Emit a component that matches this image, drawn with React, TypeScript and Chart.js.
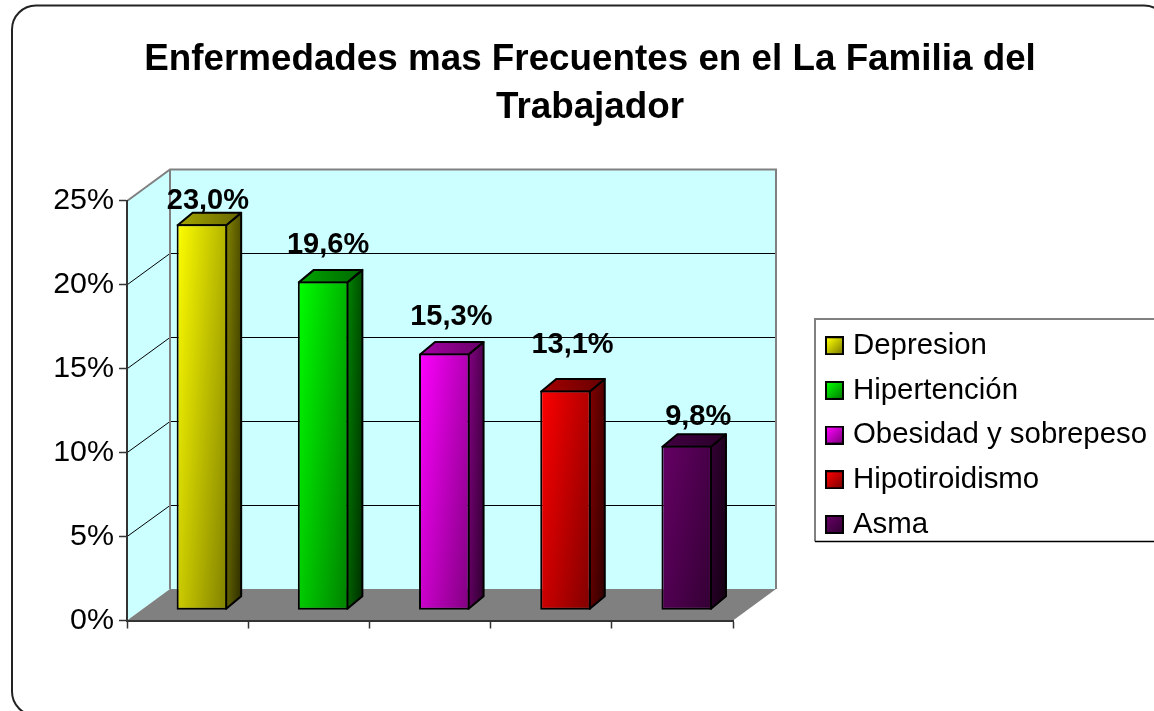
import React, { useEffect, useRef } from "react";
import { Chart, registerables } from "chart.js";

Chart.register(...registerables);

const TITLE_LINES = ["Enfermedades mas Frecuentes en el La Familia del", "Trabajador"];
const CATEGORIES = ["Depresion", "Hipertención", "Obesidad y sobrepeso", "Hipotiroidismo", "Asma"];
const VALUES = [23.0, 19.6, 15.3, 13.1, 9.8];
const BASE_RGB: number[][] = [
  [255, 255, 0],
  [0, 255, 0],
  [255, 0, 255],
  [255, 0, 0],
  [102, 0, 102],
];
// data labels were hand-placed in the source chart
const LABEL_SHIFT_X = [6, 5, 7, 7, 11.5];
const LABEL_GAP_Y = [15, 28, 29, 37, 21];

const FONT = '"Liberation Sans", Arial, sans-serif';
const WALL = "#CCFFFF";
const EDGE = "#808080";
const DEPTH_X = 43;
const DEPTH_Y = -31.5;
const BAR_DX = 14.3;
const BAR_BASE = 610.3;
const SIDE_X = 15;
const SIDE_Y = -12.5;

const shade = (rgb: number[], k: number) =>
  `rgb(${Math.round(rgb[0] * k)},${Math.round(rgb[1] * k)},${Math.round(rgb[2] * k)})`;

function grad(ctx: CanvasRenderingContext2D, x: number, y: number, w: number, h: number, rgb: number[], k0: number, k1: number) {
  const a = 0.6 / w;
  const b = 0.4 / Math.max(h, 1);
  const t = 1 / (a * a + b * b);
  const g = ctx.createLinearGradient(x, y, x + a * t, y + b * t);
  g.addColorStop(0, shade(rgb, k0));
  g.addColorStop(1, shade(rgb, k1));
  return g;
}

function swatch(rgb: number[]) {
  const c = document.createElement("canvas");
  c.width = 19;
  c.height = 19;
  const x = c.getContext("2d") as CanvasRenderingContext2D;
  x.fillStyle = "#000";
  x.fillRect(0, 0, 19, 19);
  const g = x.createLinearGradient(2, 2, 17, 17);
  g.addColorStop(0, shade(rgb, 1));
  g.addColorStop(1, shade(rgb, 0.5));
  x.fillStyle = g;
  x.fillRect(2, 2, 15, 15);
  return c;
}

const room = {
  id: "room",
  afterLayout(chart: any) {
    const t = chart.titleBlock;
    if (t) {
      t.left = 0;
      t.right = 1180;
      t.top = 36;
    }
    const l = chart.legend;
    if (l) {
      l.left = 815.4;
      l.right = 1154;
      l.top = 315.7;
      l.bottom = 711;
    }
  },
  beforeDraw(chart: any) {
    const { ctx, chartArea: a, scales } = chart;
    ctx.save();
    ctx.fillStyle = "#fff";
    ctx.fillRect(0, 0, chart.width, chart.height);
    // outer frame
    ctx.strokeStyle = "#222";
    ctx.lineWidth = 2;
    ctx.beginPath();
    ctx.roundRect(12, 5.5, 1156, 710, 24);
    ctx.stroke();
    const bx = a.left + DEPTH_X;
    const rx = a.right + DEPTH_X;
    const ty = a.top + DEPTH_Y;
    const by = a.bottom + DEPTH_Y;
    // walls
    ctx.fillStyle = WALL;
    ctx.fillRect(bx, ty, rx - bx, by - ty);
    ctx.beginPath();
    ctx.moveTo(a.left, a.top);
    ctx.lineTo(bx, ty);
    ctx.lineTo(bx, by);
    ctx.lineTo(a.left, a.bottom);
    ctx.closePath();
    ctx.fill();
    // gridlines on the walls
    ctx.strokeStyle = "#000";
    ctx.lineWidth = 1;
    for (const tick of scales.y.ticks) {
      if (tick.value === 0 || tick.value === scales.y.max) continue;
      const y = scales.y.getPixelForValue(tick.value);
      const back = Math.floor(y + DEPTH_Y) + 0.5;
      ctx.beginPath();
      ctx.moveTo(a.left, y);
      ctx.lineTo(bx, back);
      ctx.lineTo(rx, back);
      ctx.stroke();
    }
    // floor
    ctx.fillStyle = EDGE;
    ctx.beginPath();
    ctx.moveTo(a.left, a.bottom);
    ctx.lineTo(bx, by);
    ctx.lineTo(rx, by);
    ctx.lineTo(a.right, a.bottom);
    ctx.closePath();
    ctx.fill();
    // wall edges
    ctx.strokeStyle = EDGE;
    ctx.lineWidth = 2;
    ctx.beginPath();
    ctx.moveTo(a.left, a.top);
    ctx.lineTo(bx, ty);
    ctx.lineTo(rx, ty);
    ctx.lineTo(rx, by);
    ctx.moveTo(bx, ty);
    ctx.lineTo(bx, by);
    ctx.stroke();
    // legend frame
    ctx.beginPath();
    ctx.moveTo(1154, 319);
    ctx.lineTo(815, 319);
    ctx.lineTo(815, 541.5);
    ctx.stroke();
    ctx.strokeStyle = "#000";
    ctx.lineWidth = 1.5;
    ctx.beginPath();
    ctx.moveTo(815, 541.5);
    ctx.lineTo(1154, 541.5);
    ctx.stroke();
    ctx.restore();
  },
  beforeDatasetsDraw(chart: any) {
    const { ctx } = chart;
    const meta = chart.getDatasetMeta(0);
    const dy = BAR_BASE - chart.chartArea.bottom;
    ctx.save();
    meta.data.forEach((bar: any, i: number) => {
      const rgb = BASE_RGB[i];
      const half = bar.width / 2;
      const x0 = bar.x - half + BAR_DX;
      const x1 = bar.x + half + BAR_DX;
      const y0 = bar.y + dy;
      const y1 = bar.base + dy;
      ctx.lineWidth = 2;
      ctx.strokeStyle = "#000";
      ctx.lineJoin = "round";
      // side face
      ctx.fillStyle = grad(ctx, x1, y0 + SIDE_Y, SIDE_X, y1 - y0, rgb, 0.5, 0.17);
      ctx.beginPath();
      ctx.moveTo(x1 - 1, y0 + 1);
      ctx.lineTo(x1 - 1 + SIDE_X, y0 + 1 + SIDE_Y);
      ctx.lineTo(x1 - 1 + SIDE_X, y1 - 1 + SIDE_Y);
      ctx.lineTo(x1 - 1, y1 - 1);
      ctx.closePath();
      ctx.fill();
      ctx.stroke();
      // top face
      const tg = ctx.createLinearGradient(x0, 0, x1 + SIDE_X, 0);
      tg.addColorStop(0, shade(rgb, 0.65));
      tg.addColorStop(1, shade(rgb, 0.4));
      ctx.fillStyle = tg;
      ctx.beginPath();
      ctx.moveTo(x0 + 1, y0 + 1);
      ctx.lineTo(x0 + 1 + SIDE_X, y0 + 1 + SIDE_Y);
      ctx.lineTo(x1 - 1 + SIDE_X, y0 + 1 + SIDE_Y);
      ctx.lineTo(x1 - 1, y0 + 1);
      ctx.closePath();
      ctx.fill();
      ctx.stroke();
    });
    ctx.restore();
    // front faces: the library's own bars, pushed into the room's depth
    ctx.save();
    ctx.translate(BAR_DX, dy);
  },
  afterDatasetsDraw(chart: any) {
    const { ctx } = chart;
    ctx.restore();
    const meta = chart.getDatasetMeta(0);
    const dy = BAR_BASE - chart.chartArea.bottom;
    ctx.save();
    ctx.font = `bold 29px ${FONT}`;
    ctx.fillStyle = "#000";
    ctx.textAlign = "center";
    ctx.textBaseline = "alphabetic";
    meta.data.forEach((bar: any, i: number) => {
      const text = `${VALUES[i].toFixed(1).replace(".", ",")}%`;
      ctx.fillText(text, bar.x + BAR_DX + LABEL_SHIFT_X[i], bar.y + dy - LABEL_GAP_Y[i]);
    });
    ctx.restore();
  },
};

export default function App() {
  const ref = useRef<HTMLCanvasElement>(null);
  useEffect(() => {
    const canvas = ref.current as HTMLCanvasElement;
    const swatches = BASE_RGB.map(swatch);
    const chart = new Chart(canvas, {
      type: "bar",
      data: {
        labels: CATEGORIES,
        datasets: [
          {
            data: VALUES,
            clip: false,
            barPercentage: 0.417,
            categoryPercentage: 1,
            borderWidth: 2,
            borderColor: "#000",
            borderSkipped: false,
            backgroundColor: (c: any) => {
              const ch = c.chart;
              const i = c.dataIndex;
              if (!ch.chartArea || i === undefined) return shade(BASE_RGB[i ?? 0], 1);
              const xs = ch.scales.x;
              const ys = ch.scales.y;
              const w = (xs.right - xs.left) / CATEGORIES.length * 0.417;
              const top = ys.getPixelForValue(VALUES[i]);
              return grad(ch.ctx, xs.getPixelForValue(i) - w / 2, top, w, ys.getPixelForValue(0) - top, BASE_RGB[i], 1, 0.5);
            },
          } as any,
        ],
      },
      options: {
        animation: false,
        responsive: false,
        events: [],
        layout: { padding: { left: 0, right: 421, top: 0, bottom: 0 } },
        scales: {
          x: {
            offset: true,
            afterFit: (s: any) => {
              s.height = 90.5;
            },
            grid: { offset: true, drawOnChartArea: false, drawTicks: true, tickLength: 8, tickColor: "#333", tickWidth: 1.5 },
            border: { color: "#333", width: 2 },
            ticks: { display: false },
          },
          y: {
            min: 0,
            max: 25,
            afterFit: (s: any) => {
              s.width = 127;
            },
            grid: { drawOnChartArea: false, tickLength: 8, tickColor: "#333", tickWidth: 1.5 },
            border: { color: "#333", width: 2 },
            ticks: {
              stepSize: 5,
              padding: 5,
              color: "#000",
              font: { family: FONT, size: 30.4 },
              callback: (v: any) => `${v}%`,
            },
          },
        },
        plugins: {
          title: {
            display: true,
            text: TITLE_LINES,
            color: "#000",
            align: "center",
            font: { family: FONT, size: 36.8, weight: "bold", lineHeight: 1.304 },
            padding: { top: 0, bottom: 105 },
          },
          legend: {
            display: true,
            position: "chartArea",
            align: "start",
            labels: {
              usePointStyle: true,
              boxWidth: 7.6,
              boxHeight: 19,
              padding: 15.3,
              color: "#000",
              font: { family: FONT, size: 29.4 },
              generateLabels: () =>
                CATEGORIES.map((text, i) => ({
                  text,
                  pointStyle: swatches[i],
                  fontColor: "#000",
                  fillStyle: "#000",
                  strokeStyle: "#000",
                  lineWidth: 0,
                  hidden: false,
                  index: i,
                })),
            },
          },
          tooltip: { enabled: false },
        },
      } as any,
      plugins: [room as any],
    });
    return () => chart.destroy();
  }, []);
  return (
    <div style={{ position: "fixed", left: 0, top: 0, width: 1154, height: 711, overflow: "hidden", background: "#fff" }}>
      <canvas ref={ref} width={1154} height={711} style={{ display: "block", width: 1154, height: 711 }} />
    </div>
  );
}
